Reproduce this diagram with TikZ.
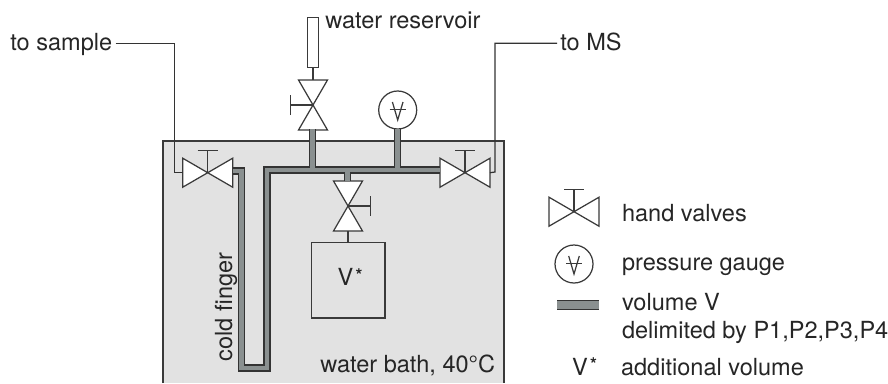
\documentclass[tikz,border=0pt]{standalone}
\usepackage{fontspec}
\setmainfont{TeX Gyre Heros}
\definecolor{bathgray}{HTML}{E2E2E2}
\definecolor{pipegray}{HTML}{8A9090}
\definecolor{inkgray}{HTML}{3A3A3A}
\newcommand{\vstar}{V\kern1.4pt\raisebox{2.3pt}{\fontsize{10}{10}\selectfont\bfseries *}}
\tikzset{
	lbl/.style={anchor=base west, inner sep=0pt, font=\fontsize{13.4}{16}\selectfont, text=black!85},
	thinline/.style={draw=inkgray, line width=0.7pt},
	pipeedge/.style={draw=black!80, line width=4.1pt},
	pipefill/.style={draw=pipegray, line width=2.6pt},
	handvalve/.pic={
		\coordinate (-a) at (-25,0);
		\coordinate (-b) at (25,0);
		\draw[thinline, fill=white] (0,0) -- (-25,-14.5) -- (-25,14.5) -- cycle;
		\draw[thinline, fill=white] (0,0) -- (25,-14.5) -- (25,14.5) -- cycle;
		\draw[thinline] (0,0) -- (0,-22.5);
		\draw[thinline] (-10,-22.5) -- (10,-22.5);
	},
	gaugesym/.pic={
		\draw[thinline] (-8,-0.5) -- (8,-0.5);
		\draw[thinline] (-5.3,-8) -- (0,10) -- (5.3,-8);
	},
	gaugering/.style={circle, thinline, fill=white, inner sep=0pt, minimum size=38*0.02cm},
}
\begin{document}
\begin{tikzpicture}[x=0.02cm, y=-0.02cm]
	\useasboundingbox (0,0) rectangle (888,383);
	% bath
	\fill[bathgray] (163,141) rectangle (504,383);
	\draw[thinline] (163,383) -- (163,141) -- (504,141) -- (504,383);

	% texts
	\node[lbl] (tosample) at (10,50) {to sample};
	\node[lbl] (reservoirtxt) at (325,28) {water reservoir};
	\node[lbl] (toms) at (560,50) {to MS};
	\node[lbl] (bathtxt) at (320,372) {water bath, 40°C};
	\node[lbl, rotate=90, anchor=center] (fingertxt) at (226,307) {cold finger};

	% valves
	\pic (vleft) at (207.7,172.7) {handvalve};
	\pic (vright) at (465,172.7) {handvalve};
	\pic[rotate=90] (vtop) at (313,105) {handvalve};
	\pic[rotate=-90] (vmid) at (348,206) {handvalve};

	% gauge, reservoir, extra volume
	\node[gaugering] (gauge) at (397.7,110) {};
	\pic at (gauge.center) {gaugesym};
	\node[draw=inkgray, line width=0.7pt, fill=white, inner sep=0pt, minimum width=10.3*0.02cm, minimum height=50*0.02cm] (reservoir) at (313,42.7) {};
	\node[thinline, inner sep=0pt, minimum width=73.3*0.02cm, minimum height=75.3*0.02cm] (extra) at (348.3,280.3) {};
	\node[lbl, anchor=center] (extratxt) at (350,277) {\vstar};

	% feed lines
	\draw[thinline] (reservoir.south) -- (vtop-b);
	\draw[thinline] (vmid-b) -- (extra.north -| vmid-b);
	\draw[black!80, line width=0.7pt] (tosample.east |- 0,43.3) ++(3,0) -| (174.3,172.7) -- (vleft-a);
	\draw[black!80, line width=0.7pt] (toms.west |- 0,43.3) ++(-3,0) -| (495,172) -- (vright-b);

	% volume V
	\coordinate (pipeL) at (232.7,171);
	\coordinate (cfA) at (241.5,171);
	\coordinate (cfB) at (241.5,368);
	\coordinate (cfC) at (267,368);
	\coordinate (cfD) at (267,170);
	\coordinate (pipeR) at (440,170);
	\foreach \pipelayer in {pipeedge,pipefill} {
		\draw[\pipelayer] (pipeL) -- (cfA) -- (cfB) -- (cfC) -- (cfD) -- (pipeR);
		\draw[\pipelayer] (312.5,129) -- (312.5,170);
		\draw[\pipelayer] (397.7,129) -- (397.7,170);
		\draw[\pipelayer] (347.5,170) -- (347.5,181);
	}

	% legend
	\pic (lgvalve) at (574,211.7) {handvalve};
	\node[lbl] (lgvalvetxt) at (621.7,221.5) {hand valves};
	\node[gaugering, fill=none] (lggauge) at (574,264) {};
	\pic at (lggauge.center) {gaugesym};
	\node[lbl] (lggaugetxt) at (621.7,270) {pressure gauge};
	\coordinate (lgpipeA) at (557,305);
	\coordinate (lgpipeB) at (599,305);
	\draw[pipeedge, line width=5.6pt] (lgpipeA) -- (lgpipeB);
	\draw[pipefill, line width=4.6pt] (lgpipeA) -- (lgpipeB);
	\node[lbl] (lgvolume) at (621.7,310) {volume V};
	\node[lbl] (lgdelim) at (621.7,338) {delimited by P1,P2,P3,P4};
	\node[lbl] (lgstar) at (571.7,375) {\vstar};
	\node[lbl] (lgadd) at (620.7,375) {additional volume};
\end{tikzpicture}
\end{document}
